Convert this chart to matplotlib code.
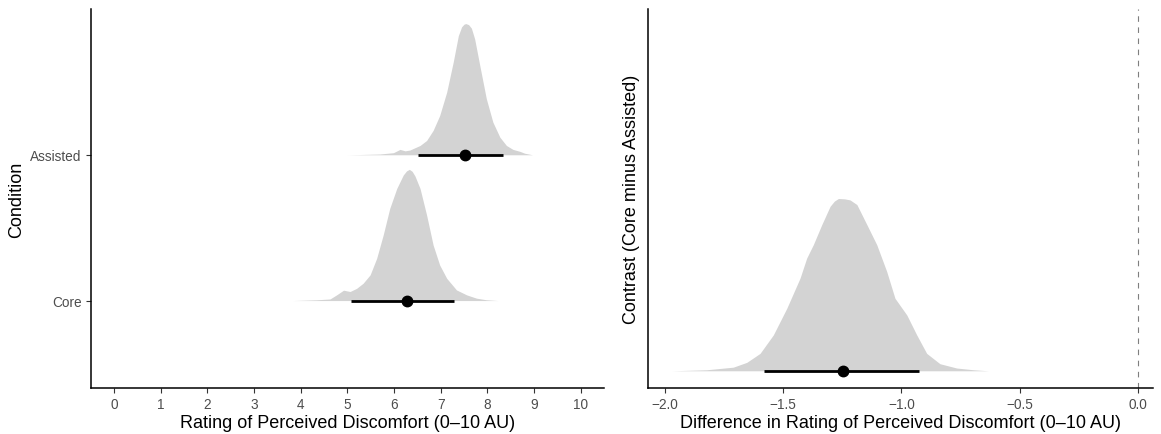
import matplotlib.pyplot as plt
import numpy as np

plt.rcParams['font.family'] = ['Liberation Sans', 'DejaVu Sans']

# Posterior densities (relative height, peak = 1)
assisted_x = [4.99, 5.27, 5.70, 5.99, 6.13, 6.24, 6.34, 6.56, 6.70, 6.84, 6.98, 7.13, 7.27,
              7.38, 7.45, 7.50, 7.54, 7.60, 7.66, 7.73, 7.84, 7.98, 8.12, 8.27, 8.41, 8.55,
              8.70, 8.80, 8.97]
assisted_d = [0.0, 0.002, 0.006, 0.016, 0.041, 0.030, 0.036, 0.071, 0.109, 0.186, 0.299, 0.477,
              0.706, 0.908, 0.975, 0.995, 1.0, 0.992, 0.965, 0.883, 0.680, 0.427, 0.249, 0.134,
              0.071, 0.041, 0.026, 0.012, 0.0]

core_x = [3.83, 4.35, 4.63, 4.77, 4.92, 5.06, 5.20, 5.34, 5.49, 5.63, 5.77, 5.91, 6.06, 6.20,
          6.27, 6.33, 6.39, 6.45, 6.56, 6.70, 6.84, 6.98, 7.13, 7.34, 7.56, 7.77, 7.98, 8.23]
core_d = [0.0, 0.006, 0.012, 0.043, 0.079, 0.069, 0.093, 0.132, 0.196, 0.322, 0.500, 0.702,
          0.854, 0.957, 0.988, 1.0, 0.985, 0.950, 0.854, 0.652, 0.423, 0.271, 0.170, 0.081,
          0.043, 0.018, 0.006, 0.0]

contrast_x = [-1.970, -1.822, -1.710, -1.653, -1.597, -1.541, -1.484, -1.428, -1.400, -1.372,
              -1.336, -1.301, -1.283, -1.266, -1.240, -1.217, -1.188, -1.146, -1.104, -1.062,
              -1.027, -0.977, -0.935, -0.893, -0.837, -0.766, -0.696, -0.632]
contrast_d = [0.0, 0.006, 0.021, 0.049, 0.101, 0.208, 0.363, 0.538, 0.654, 0.732, 0.849, 0.955,
              0.985, 1.0, 0.998, 0.992, 0.965, 0.849, 0.732, 0.577, 0.421, 0.324, 0.208, 0.101,
              0.041, 0.016, 0.006, 0.0]

conditions = ['Core', 'Assisted']
cond_median = [6.28, 7.53]
cond_lo = [5.07, 6.51]
cond_hi = [7.29, 8.33]

contrast_median = -1.248
contrast_lo = -1.579
contrast_hi = -0.924

slab_fill = '#d3d3d3'
tick_col = '#4d4d4d'
title_size = 13

fig = plt.figure(figsize=(11.61, 4.35), dpi=100)
ax1 = fig.add_axes([0.0780, 0.1057, 0.4422, 0.8713])
ax2 = fig.add_axes([0.5584, 0.1057, 0.4347, 0.8713])

# Left panel: halfeye per condition
dens = [(core_x, core_d), (assisted_x, assisted_d)]
for i, (dx, dd) in enumerate(dens):
    y0 = i + 1
    ax1.fill_between(dx, y0, y0 + 0.9 * np.array(dd), color=slab_fill, linewidth=0, zorder=1)
    ax1.plot([cond_lo[i], cond_hi[i]], [y0, y0], color='black', lw=2.0, solid_capstyle='butt', zorder=2)
    ax1.plot(cond_median[i], y0, 'o', color='black', ms=7.5, zorder=3)

ax1.set_xlim(-0.5, 10.5)
ax1.set_ylim(0.4, 3.0)
ax1.set_xticks(range(0, 11))
ax1.set_yticks([1, 2])
ax1.set_yticklabels(conditions)
ax1.set_xlabel('Rating of Perceived Discomfort (0–10 AU)', fontsize=title_size, labelpad=2)
ax1.set_ylabel('Condition', fontsize=title_size, labelpad=4)

# Right panel: contrast
ax2.fill_between(contrast_x, 0, contrast_d, color=slab_fill, linewidth=0, zorder=1)
ax2.plot([contrast_lo, contrast_hi], [0, 0], color='black', lw=2.0, solid_capstyle='butt', zorder=2)
ax2.plot(contrast_median, 0, 'o', color='black', ms=7.5, zorder=3)
ax2.axvline(0, color='#7f7f7f', lw=0.8, ls=(0, (5, 5)), zorder=0)
ax2.set_xlim(-2.069, 0.063)
ax2.set_ylim(-0.1, 2.1)
ax2.set_xticks([-2.0, -1.5, -1.0, -0.5, 0.0])
ax2.set_xticklabels(['\u22122.0', '\u22121.5', '\u22121.0', '\u22120.5', '0.0'])
ax2.set_yticks([])
ax2.set_xlabel('Difference in Rating of Perceived Discomfort (0–10 AU)', fontsize=title_size, labelpad=2)
ax2.set_ylabel('Contrast (Core minus Assisted)', fontsize=title_size, labelpad=6)

for ax in (ax1, ax2):
    ax.spines['top'].set_visible(False)
    ax.spines['right'].set_visible(False)
    for s in ('left', 'bottom'):
        ax.spines[s].set_linewidth(1.1)
        ax.spines[s].set_color('black')
    ax.tick_params(colors='#333333', labelcolor=tick_col, labelsize=9.8, length=3.8, width=0.8, pad=2.5)

fig.savefig('out.png', dpi=100)
